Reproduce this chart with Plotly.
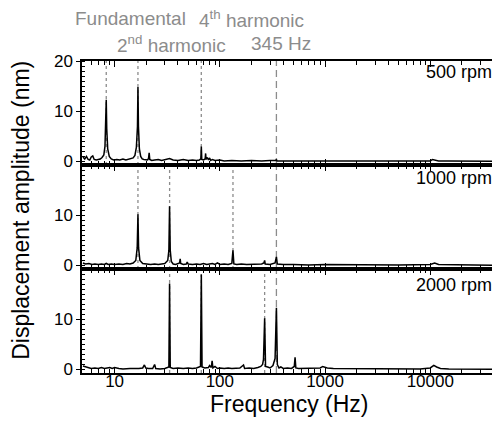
import math
import plotly.graph_objects as go

# ---------------- data ----------------
freq_500 = [5.0, 5.2, 5.4, 5.6, 5.8, 6.0, 6.2, 6.4, 6.7, 7.0, 7.3, 7.6, 7.9, 8.1, 8.25, 8.33, 8.42, 8.6, 8.9,
            9.3, 9.8, 10.5, 11.2, 12.0, 12.8, 13.5, 14.3, 15.0, 15.6, 16.1, 16.5, 16.67, 16.85, 17.2, 17.7,
            18.3, 19.0, 19.8, 20.6, 21.0, 21.3, 21.6, 22.5, 24, 26, 28, 30, 33.3, 36, 40, 45, 50, 55, 60, 64,
            66.0, 66.7, 67.4, 70, 72.5, 73.3, 74, 76, 78, 80, 82, 85, 90, 100, 110, 130, 160, 200, 250, 300,
            340, 345, 350, 400, 500, 700, 1000, 1500, 2000, 3000, 5000, 8000, 10000, 10500, 11000, 12000,
            15000, 20000, 30000, 45000]
amp_500 = [0.9, 0.5, 1.0, 0.4, 0.3, 0.9, 1.1, 0.4, 0.3, 0.4, 0.5, 0.8, 1.3, 3.0, 7.5, 12.3, 6.5, 2.5, 1.0,
           0.5, 0.3, 0.4, 0.3, 0.5, 0.3, 0.4, 0.5, 0.7, 1.2, 2.8, 7.0, 14.8, 7.0, 2.5, 1.0,
           0.5, 0.4, 0.3, 0.3, 0.6, 1.7, 0.4, 0.2, 0.3, 0.4, 0.2, 0.3, 0.6, 0.3, 0.2, 0.4, 0.2, 0.3, 0.2, 0.3,
           0.5, 3.0, 0.4, 0.3, 0.5, 1.6, 0.4, 0.8, 0.3, 0.7, 0.2, 0.4, 0.2, 0.3, 0.1, 0.2, 0.1, 0.2, 0.1, 0.2,
           0.2, 0.4, 0.1, 0.1, 0.1, 0.1, 0.1, 0.1, 0.1, 0.1, 0.1, 0.1, 0.1, 0.4, 0.3, 0.1,
           0.1, 0.1, 0.05, 0.05]

freq_1000 = [5.0, 5.3, 5.7, 6.1, 6.5, 7.0, 7.5, 8.0, 8.33, 8.7, 9.3, 10, 11, 12, 13, 14, 15, 15.9, 16.4, 16.67,
             16.9, 17.4, 18.5, 20, 22, 24, 26, 28, 30, 32.0, 32.8, 33.3, 33.8, 34.6, 36, 38, 40, 41.5, 42,
             42.5, 45, 48, 49, 50, 55, 60, 65, 70, 75, 80, 85, 90, 95, 100, 110, 120, 130, 133.3, 136, 145,
             160, 180, 200, 230, 250, 262, 266.7, 270, 300, 335, 345, 352, 400, 500, 700, 1000, 2000, 5000,
             10000, 11000, 12000, 20000, 45000]
amp_1000 = [0.5, 0.3, 0.4, 0.2, 0.3, 0.2, 0.3, 0.2, 0.4, 0.2, 0.3, 0.2, 0.3, 0.2, 0.4, 0.3, 0.5, 1.0, 3.5, 10.2,
            3.5, 1.0, 0.4, 0.3, 0.2, 0.3, 0.2, 0.3, 0.4, 1.0, 3.0, 11.8, 3.0, 0.8, 0.3, 0.2, 0.3, 0.5, 1.3,
            0.4, 0.2, 0.3, 0.7, 0.3, 0.2, 0.3, 0.2, 0.4, 0.2, 0.3, 0.4, 0.2, 0.5, 0.2, 0.3, 0.2, 0.4, 3.0, 0.3, 0.2,
            0.3, 0.2, 0.2, 0.3, 0.3, 0.5, 1.0, 0.3, 0.2, 0.5, 1.7, 0.3, 0.2, 0.2, 0.1, 0.2, 0.1, 0.1,
            0.2, 0.5, 0.2, 0.1, 0.05]

freq_2000 = [5.0, 5.3, 5.6, 6.0, 6.5, 7.0, 7.5, 8.0, 8.5, 9.0, 9.5, 10, 11, 12, 14, 16, 17, 18.5, 19.2, 19.8,
             21, 23, 24.0, 24.6, 27, 30, 32.8, 33.3, 33.8, 36, 40, 45, 50, 55, 60, 65.5, 66.7, 67.8, 72, 78,
             80, 83, 84.5, 86, 90, 95, 100, 110, 120, 130, 140, 155, 168, 172, 190, 210, 230, 245, 255, 260,
             266.7, 272, 285, 300, 320, 335, 345, 352, 365, 380, 400, 440, 480, 510, 519, 528, 560, 600, 700,
             800, 900, 950, 1000, 1050, 1200, 1500, 2000, 3000, 5000, 8000, 10000, 10800, 11500, 12500,
             15000, 25000, 45000]
amp_2000 = [0.7, 0.5, 0.3, 0.2, 0.3, 0.2, 0.4, 0.2, 0.3, 0.4, 0.2, 0.4, 0.2, 0.1, 0.2, 0.1, 0.2, 0.3, 0.9, 0.3,
            0.2, 0.2, 1.0, 0.2, 0.1, 0.2, 0.5, 17.1, 0.4, 0.2, 0.3, 0.2, 0.3, 0.2, 0.3, 0.6, 18.9, 0.5, 0.3, 0.4,
            0.8, 0.4, 1.7, 0.3, 0.6, 0.2, 0.3, 0.2, 0.3, 0.2, 0.2, 0.3, 0.9, 0.2, 0.3, 0.2, 0.4, 0.6, 1.0, 2.0,
            10.2, 0.6, 0.5, 0.3, 0.8, 2.2, 12.3, 1.0, 0.3, 0.5, 0.2, 0.3, 0.2, 0.6, 2.4, 0.3, 0.2, 0.2, 0.3,
            0.2, 0.3, 0.6, 0.5, 0.3, 0.2, 0.2, 0.1, 0.1, 0.1, 0.1, 0.3, 0.8, 0.5, 0.2,
            0.1, 0.1, 0.05]

rpm_labels = ["500 rpm", "1000 rpm", "2000 rpm"]
harmonics_500 = [8.33, 16.67, 66.67]
harmonics_1000 = [16.67, 33.33, 133.33]
harmonics_2000 = [33.33, 66.67, 266.67]
line_345 = 345

x_ticks = [10, 100, 1000, 10000]
x_ticktext = ["10", "100", "1000", "10000"]

# ---------------- figure ----------------
FONT = "Liberation Sans, Arial, sans-serif"
fig = go.Figure()

panels = [(freq_500, amp_500, harmonics_500), (freq_1000, amp_1000, harmonics_1000),
          (freq_2000, amp_2000, harmonics_2000)]
axnames = ["", "2", "3"]
for i, (f, a, h) in enumerate(panels):
    sfx = axnames[i]
    fig.add_trace(go.Scatter(x=f, y=a, mode="lines", line=dict(color="black", width=1.5),
                             xaxis="x" + sfx, yaxis="y" + sfx, showlegend=False, hoverinfo="skip"))
    for hv in h:
        fig.add_shape(type="line", xref="x" + sfx, yref="y" + sfx + " domain", x0=hv, x1=hv, y0=0, y1=1,
                      line=dict(color="#8c8c8c", width=1.3, dash="3px,3px"), layer="below")
    fig.add_shape(type="line", xref="x" + sfx, yref="y" + sfx + " domain", x0=line_345, x1=line_345,
                  y0=0, y1=1, line=dict(color="#8c8c8c", width=1.3, dash="7px,4px"), layer="below")

xr = [math.log10(4.9), math.log10(45000)]
domains = [[2 / 3, 1], [1 / 3, 2 / 3], [0, 1 / 3]]
common_x = dict(type="log", range=xr, showline=True, linecolor="black", linewidth=1.5, mirror="ticks",
                ticks="inside", ticklen=6, tickwidth=1, tickcolor="black", ticklabelstandoff=-8,
                tickvals=x_ticks, ticktext=x_ticktext, showgrid=False, zeroline=False,
                minor=dict(ticks="inside", ticklen=4, tickwidth=1, tickcolor="black", dtick="D1", showgrid=False),
                tickfont=dict(family=FONT, size=17, color="black"))
for i, sfx in enumerate(axnames):
    xa = dict(common_x)
    xa["anchor"] = "y" + sfx
    xa["showticklabels"] = (i == 2)
    if i > 0:
        xa["matches"] = "x"
    ya = dict(range=[-0.7, 20], domain=domains[i], anchor="x" + sfx, showline=True, linecolor="black",
              linewidth=1.5, mirror="ticks", ticks="outside", ticklen=4, tickwidth=1, tickcolor="black",
              tickvals=[0, 10, 20] if i == 0 else [0, 10], showgrid=False, zeroline=False,
              minor=dict(ticks="inside", ticklen=3, tickwidth=1, tickcolor="black", dtick=1, tick0=0,
                         showgrid=False),
              tickfont=dict(family=FONT, size=17, color="black"))
    fig.layout["xaxis" + sfx] = xa
    fig.layout["yaxis" + sfx] = ya

annotations = []
label_y = [0.965, 0.625, 0.283]
for i, lab in enumerate(rpm_labels):
    annotations.append(dict(text=lab, xref="paper", yref="paper", x=0.988, y=label_y[i], xanchor="right",
                            yanchor="middle", showarrow=False, font=dict(family=FONT, size=18, color="black")))
gray = "#8c8c8c"
for txt, x, y in [("Fundamental", 0.116, 1.135), ("4<sup>th</sup> harmonic", 0.407, 1.135),
                  ("2<sup>nd</sup> harmonic", 0.215, 1.056), ("345 Hz", 0.478, 1.056)]:
    annotations.append(dict(text=txt, xref="paper", yref="paper", x=x, y=y, xanchor="center", yanchor="middle",
                            showarrow=False, font=dict(family=FONT, size=19, color=gray)))
annotations.append(dict(text="Displacement amplitude (nm)", xref="paper", yref="paper", x=-0.147, y=0.522,
                        textangle=-90, xanchor="center", yanchor="middle", showarrow=False,
                        font=dict(family=FONT, size=23, color="black")))
annotations.append(dict(text="Frequency (Hz)", xref="paper", yref="paper", x=0.497, y=-0.099,
                        xanchor="center", yanchor="middle", showarrow=False,
                        font=dict(family=FONT, size=23, color="black")))

fig.update_layout(width=500, height=432, margin=dict(l=74, r=3, t=53, b=67), plot_bgcolor="white",
                  paper_bgcolor="white", annotations=annotations, showlegend=False)

fig.write_html("out.html")
